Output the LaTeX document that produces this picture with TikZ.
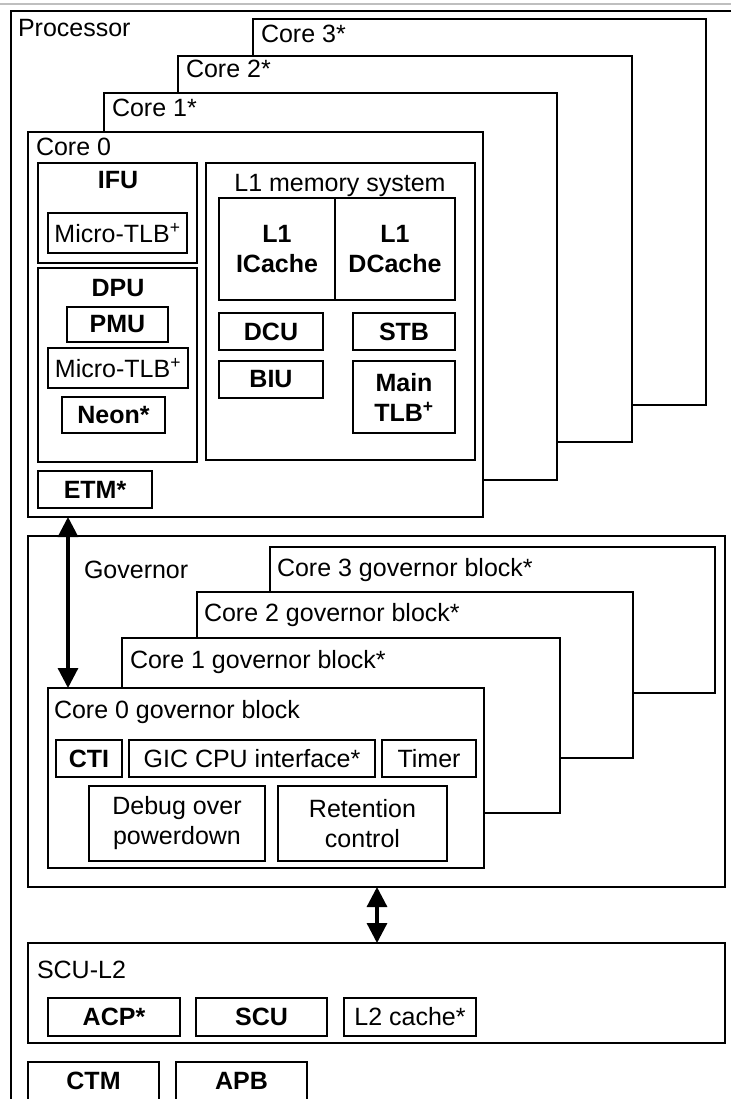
\documentclass[tikz,border=0pt]{standalone}
\usepackage{fontspec}
\setmainfont{Liberation Sans}
\usetikzlibrary{arrows.meta}
\newcommand\myfs{\fontsize{25}{30}\selectfont}
\newcommand\mybox[7][]{%
  \pgfmathsetmacro\mbW{#5-#3}%
  \pgfmathsetmacro\mbH{#6-#4}%
  \pgfmathsetmacro\mbX{(#3+#5)/2}%
  \pgfmathsetmacro\mbY{(#4+#6)/2}%
  \node[box,minimum width=\mbW pt,minimum height=\mbH pt,#1] (#2) at (\mbX,\mbY) {#7};}
\tikzset{
  box/.style={draw,line width=2.8pt,fill=white,inner sep=0pt,outer sep=0pt,font=\myfs,align=center},
  lbl/.style={inner sep=0pt,outer sep=0pt,font=\myfs},
  bld/.style={font=\myfs\bfseries},
  arr/.style={line width=3.2pt,{Triangle[length=20pt,width=20pt]}-{Triangle[length=20pt,width=20pt]}}
}
\begin{document}
\begin{tikzpicture}[x=1pt,y=-1pt]
\useasboundingbox (0,0) rectangle (731,1099);
\fill[white] (0,0) rectangle (731,1099);
% faint top line and processor frame
\draw[black!25,line width=1.5pt] (0,4) -- (731,4);
\draw[line width=2.6pt] (731,11) -- (11,11) -- (11,1105);
\node[lbl,anchor=base west] (proclbl) at (18,37) {Processor};

% stacked cores
\mybox{core3}{253}{19}{706}{405}{}
\node[lbl,anchor=base west] (core3lbl) at (261,43) {Core 3*};
\mybox{core2}{178}{56}{632}{442}{}
\node[lbl,anchor=base west] (core2lbl) at (186,78) {Core 2*};
\mybox{core1}{104}{93}{557}{480}{}
\node[lbl,anchor=base west] (core1lbl) at (112,117) {Core 1*};
\mybox{core0}{28}{132}{483}{517}{}
\node[lbl,anchor=base west] (core0lbl) at (36,156) {Core 0};

% IFU
\mybox{ifu}{38}{163}{197}{263}{}
\node[lbl,bld,anchor=base] (ifulbl) at (118,189) {IFU};
\mybox{mtlb1}{48}{213}{187}{253}{Micro-TLB\textsuperscript{+}}
% DPU
\mybox{dpu}{38}{268}{197}{462}{}
\node[lbl,bld,anchor=base] (dpulbl) at (118,296) {DPU};
\mybox[bld]{pmu}{67}{307}{168}{342}{PMU}
\mybox{mtlb2}{48}{348}{188}{388}{Micro-TLB\textsuperscript{+}}
\mybox[bld]{neon}{62}{397}{165}{433}{Neon*}
% L1 memory system
\mybox{l1mem}{206}{163}{475}{460}{}
\node[lbl,anchor=base] (l1memlbl) at (340,192) {L1 memory system};
\mybox[bld]{icache}{219}{198}{335}{300}{L1\\ICache}
\mybox[bld]{dcache}{335}{198}{455}{300}{L1\\DCache}
\mybox[bld]{dcu}{219}{313}{323}{350}{DCU}
\mybox[bld]{biu}{219}{361}{323}{398}{BIU}
\mybox[bld]{stb}{353}{313}{455}{350}{STB}
\mybox[bld]{mtlb}{353}{361}{455}{433}{Main\\TLB\textsuperscript{+}}
\mybox[bld]{etm}{38}{471}{152}{508}{ETM*}

% Governor
\mybox{gov}{28}{536}{725}{887}{}
\node[lbl,anchor=base west] (govlbl) at (84,578) {Governor};
\mybox{cg3}{270}{547}{715}{693}{}
\node[lbl,anchor=base west] (cg3lbl) at (277,576) {Core 3 governor block*};
\mybox{cg2}{197}{592}{633}{758}{}
\node[lbl,anchor=base west] (cg2lbl) at (204,621) {Core 2 governor block*};
\mybox{cg1}{122}{638}{560}{813}{}
\node[lbl,anchor=base west] (cg1lbl) at (130,668) {Core 1 governor block*};
\mybox{cg0}{48}{688}{484}{868}{}
\node[lbl,anchor=base west] (cg0lbl) at (54,718) {Core 0 governor block};
\mybox[bld]{cti}{56}{740}{122}{777}{CTI}
\mybox{gic}{129}{740}{375}{777}{GIC CPU interface*}
\mybox{timer}{382}{740}{476}{777}{Timer}
\mybox{dbg}{89}{786}{265}{861}{Debug over\\powerdown}
\mybox{ret}{278}{786}{447}{861}{Retention\\control}

% SCU-L2
\mybox{scul2}{28}{943}{725}{1043}{}
\node[lbl,anchor=base west] (scul2lbl) at (37,978) {SCU-L2};
\mybox[bld]{acp}{48}{998}{180}{1036}{ACP*}
\mybox[bld]{scu}{196}{998}{327}{1036}{SCU}
\mybox{l2c}{344}{998}{476}{1036}{L2 cache*}

% bottom blocks (cut by the page edge)
\mybox{ctm}{28}{1062}{159}{1115}{}
\node[lbl,bld] (ctmlbl) at (93.5,1081) {CTM};
\mybox{apb}{176}{1062}{307}{1115}{}
\node[lbl,bld] (apblbl) at (241.5,1081) {APB};

% connectors
\coordinate (ax) at (68,0);
\coordinate (bx) at (377,0);
\draw[arr] (core0.south -| ax) -- (cg0.north -| ax);
\draw[arr] (gov.south -| bx) -- (scul2.north -| bx);
\end{tikzpicture}
\end{document}
